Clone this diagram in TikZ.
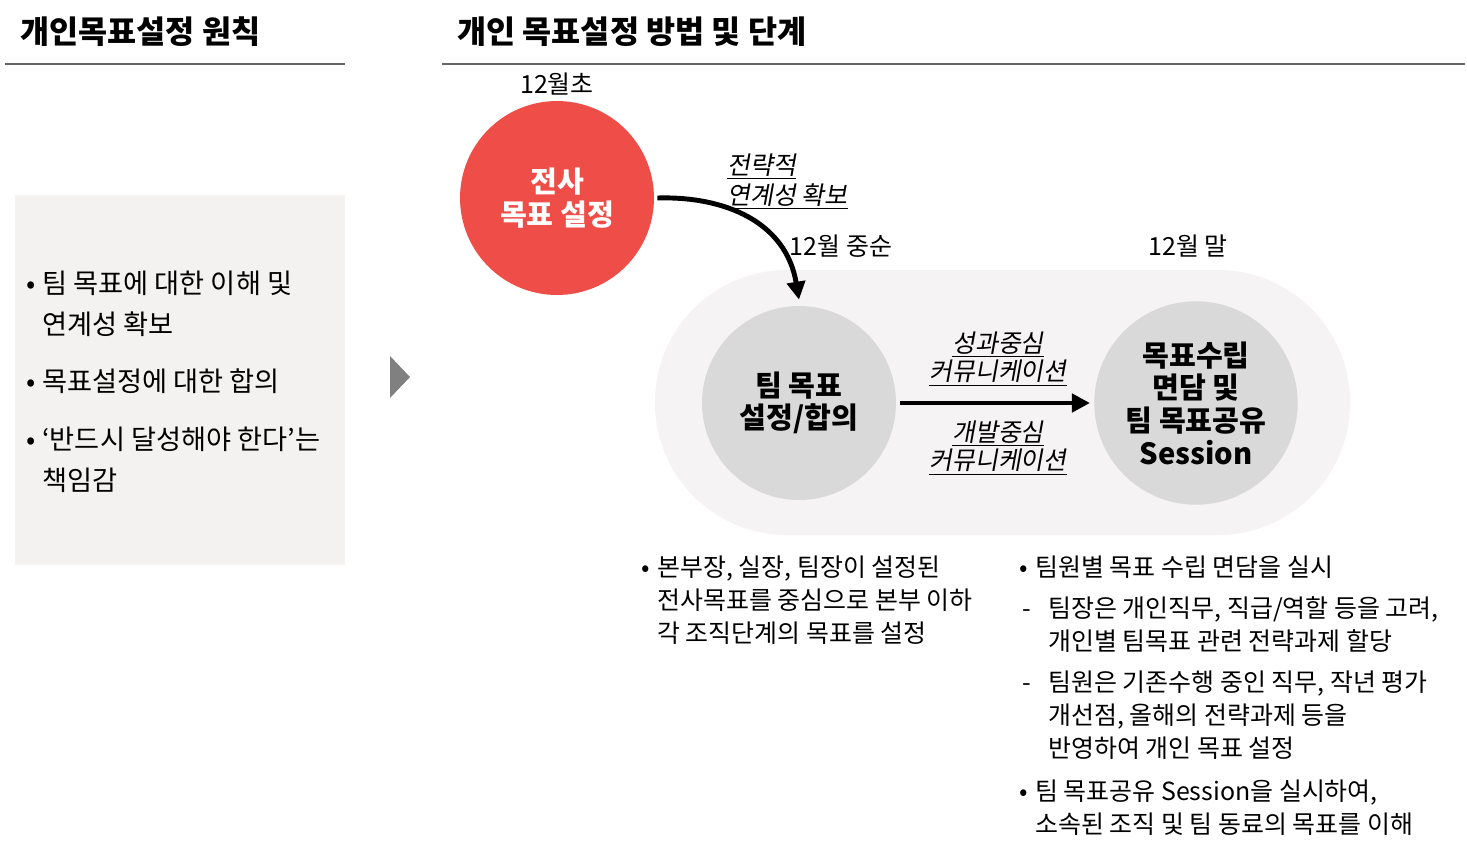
\documentclass[tikz,border=0pt]{standalone}
\usepackage{fontspec}
\setmainfont{Noto Sans CJK KR}
\newfontfamily\slantfont[FakeSlant=0.18]{Noto Sans CJK KR}
\usetikzlibrary{positioning, arrows.meta}
\definecolor{redstage}{RGB}{238,77,72}
\definecolor{graystage}{RGB}{217,217,217}
\definecolor{bandfill}{RGB}{245,243,244}
\definecolor{boxfill}{RGB}{243,242,241}
\definecolor{rulegray}{RGB}{100,100,100}
\definecolor{tipgray}{RGB}{128,128,128}
\newcommand{\bul}{\llap{\makebox[0.31cm][l]{\textbullet}}}
\newcommand{\dsh}{\llap{\makebox[0.52cm][l]{-}}}
\newcommand{\undl}[1]{\underline{#1}}
\tikzset{
  head/.style={anchor=base west, inner sep=0pt, font=\bfseries\fontsize{18}{21}\selectfont},
  rule/.style={draw=rulegray, line width=1.1pt},
  stage/.style={circle, minimum size=3.88cm, align=center, fill=graystage,
                font=\bfseries\fontsize{16.6}{18.6}\selectfont},
  txt/.style={anchor=base west, align=left, inner sep=0pt,
              font=\fontsize{14.2}{18.7}\selectfont},
  bigtxt/.style={txt, font=\fontsize{15.5}{23.2}\selectfont},
  note/.style={align=center, inner sep=0pt, font=\slantfont\fontsize{14.2}{16.2}\selectfont},
  date/.style={inner sep=1pt, font=\fontsize{14.2}{16}\selectfont},
  arr/.style={-{Triangle[length=0.36cm, width=0.36cm]}, line width=2.8pt},
}
\begin{document}
\begin{tikzpicture}[x=0.02cm, y=-0.02cm, node distance=0.07cm and 0.2cm]
  \useasboundingbox (0,0) rectangle (1467,853);
  % headers
  \node[head] (h1) at (20,43) {개인목표설정 원칙};
  \node[head] (h2) at (457,43) {개인 목표설정 방법 및 단계};
  \draw[rule] (5,64) -- (345,64);
  \draw[rule] (442,64) -- (1465,64);

  % principles (base = last line)
  \fill[boxfill] (15,195) rectangle (345,565);
  \node[bigtxt] (p1) at (42,334) {\bul 팀 목표에 대한 이해 및\\연계성 확보};
  \node[bigtxt] (p2) at (42,391) {\bul 목표설정에 대한 합의};
  \node[bigtxt] (p3) at (42,490) {\bul ‘반드시 달성해야 한다’는\\책임감};
  \fill[tipgray] (390,356) -- (410,377) -- (390,398) -- cycle;

  % stages
  \fill[bandfill, rounded corners=2.64cm] (655,270) rectangle (1350,535);
  \node[stage, fill=redstage, text=white] (corp) at (557,198) {전사\\목표 설정};
  \node[stage] (team) at (799,403) {팀 목표\\설정/합의};
  \node[stage] (sess) at (1196,403) {목표수립\\면담 및\\팀 목표공유\\Session};

  \node[date, above=of corp] (d1) {12월초};
  \node[date] (d2) at (841,246) {12월 중순};
  \node[date] (d3) at (1188,246) {12월 말};

  \draw[arr] ([xshift=0.06cm]corp.east) .. controls (725,196) and (786,222) .. ([yshift=0.12cm]team.north);
  \draw[arr] ([xshift=0.08cm]team.east) -- ([xshift=-0.08cm]sess.west);

  \node[note, anchor=base west, align=left, font=\slantfont\fontsize{14.2}{17}\selectfont] (n1)
       at (727,204) {\undl{전략적}\\\undl{연계성 확보}};
  \node[note] (n2) at (998,359) {\undl{성과중심}\\\undl{커뮤니케이션}};
  \node[note] (n3) at (998,448) {\undl{개발중심}\\\undl{커뮤니케이션}};

  % descriptions
  \node[txt] (b1) at (657,642)
       {\bul 본부장, 실장, 팀장이 설정된\\전사목표를 중심으로 본부 이하\\각 조직단계의 목표를 설정};
  \node[txt] (c1) at (1035,576) {\bul 팀원별 목표 수립 면담을 실시};
  \node[txt] (c2) at (1048,650)
       {\dsh 팀장은 개인직무, 직급/역할 등을 고려,\\개인별 팀목표 관련 전략과제 할당};
  \node[txt] (c3) at (1048,757)
       {\dsh 팀원은 기존수행 중인 직무, 작년 평가\\개선점, 올해의 전략과제 등을\\반영하여 개인 목표 설정};
  \node[txt] (c4) at (1035,833)
       {\bul 팀 목표공유 Session을 실시하여,\\소속된 조직 및 팀 동료의 목표를 이해};
\end{tikzpicture}
\end{document}
